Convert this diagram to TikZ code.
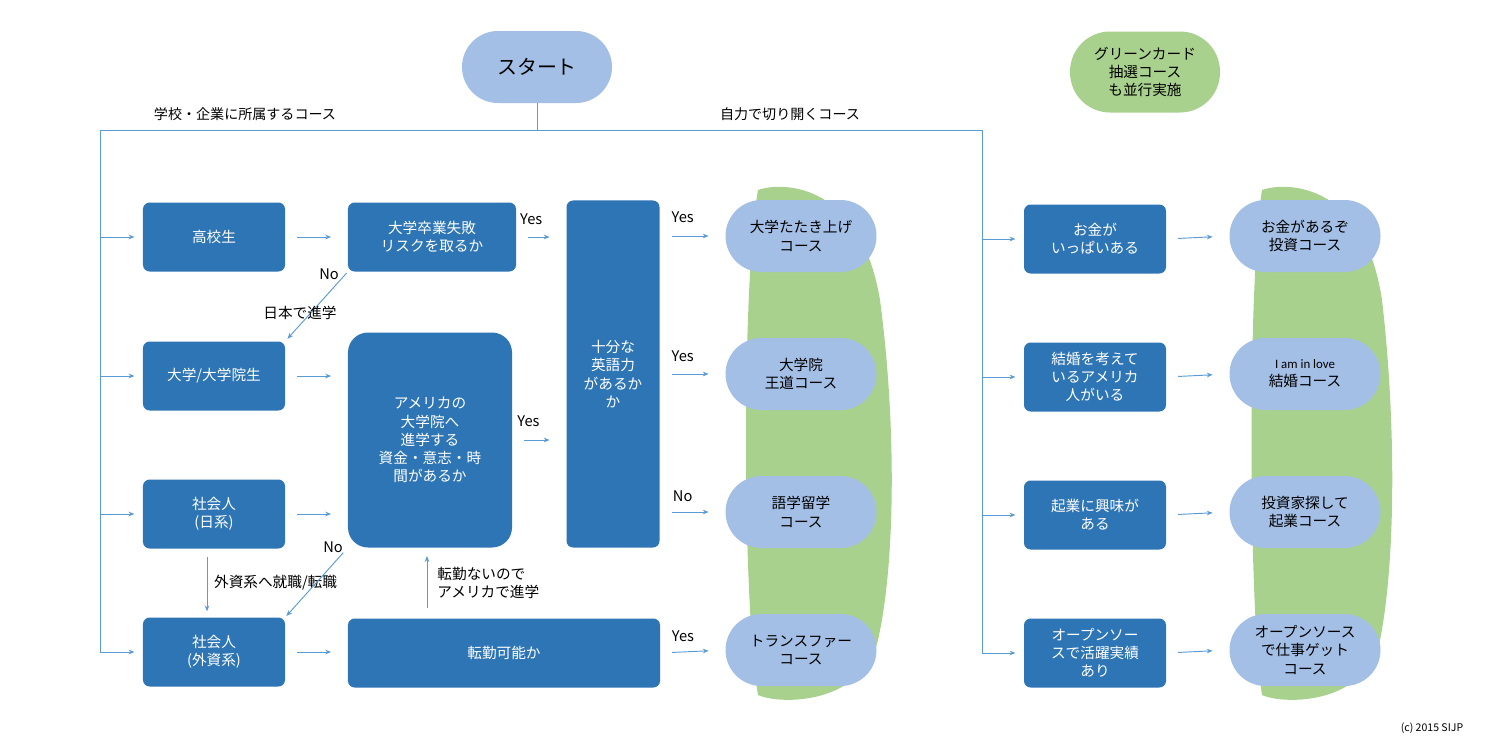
\documentclass[tikz,border=0pt]{standalone}
\usepackage{fontspec}
\setmainfont{Noto Sans CJK JP}
\usetikzlibrary{arrows.meta}
\definecolor{darkb}{HTML}{2E75B6}
\definecolor{lightb}{HTML}{A3BFE5}
\definecolor{grn}{HTML}{A9D18E}
\definecolor{wire}{HTML}{5B9BD5}
\tikzset{
  every node/.style={font=\fontsize{12.5}{15.5}\selectfont, align=center, inner sep=0pt},
  task/.style={fill=darkb, text=white, rounded corners=0.2cm, minimum width=4.26cm, minimum height=2.07cm},
  course/.style={fill=lightb, rounded corners=1.08cm, minimum width=4.53cm, minimum height=2.16cm},
  wire/.style={draw=wire, line width=0.8pt},
  arr/.style={wire, -{Stealth[length=5pt,width=4pt]}},
  gap/.style={arr, shorten <=0.36cm, shorten >=0.5cm},
  lbl/.style={font=\fontsize{12}{15}\selectfont}
}
\begin{document}
\begin{tikzpicture}[x=0.03cm, y=-0.03cm]
\useasboundingbox (0,0) rectangle (1500,748);
% green backgrounds
\fill [grn] (758,190) .. controls (780,182) and (860,180) .. (880,300)
  .. controls (896,420) and (896,560) .. (878,640)
  .. controls (862,705) and (780,705) .. (758,695)
  .. controls (742,600) and (742,280) .. cycle;
\fill [grn] (1262,190) .. controls (1284,182) and (1364,180) .. (1382,300)
  .. controls (1396,420) and (1396,560) .. (1380,640)
  .. controls (1366,705) and (1284,705) .. (1262,695)
  .. controls (1248,600) and (1248,280) .. cycle;
% top
\node [course, minimum width=4.5cm, font=\fontsize{17}{20}\selectfont] (start) at (537,67) {スタート};
\node [fill=grn, rounded corners=1.2cm, minimum width=4.5cm, minimum height=2.43cm] (gc) at (1145,72) {グリーンカード\\抽選コース\\も並行実施};
\coordinate (split) at (537,130);
\coordinate (spineL) at (100,130);
\coordinate (spineR) at (982,130);
\coordinate (downx) at (207,0);
\coordinate (upx) at (427,0);
\node [lbl] (lblL) at (245,114) {学校・企業に所属するコース};
\node [lbl] (lblR) at (790,114) {自力で切り開くコース};
% left column
\node [task] (hs) at (214,237) {高校生};
\node [task] (univ) at (214,376) {大学/大学院生};
\node [task] (jp) at (214,514) {社会人\\(日系)};
\node [task] (fg) at (214,652) {社会人\\(外資系)};
\node [task, minimum width=5.04cm] (risk) at (432,237) {大学卒業失敗\\リスクを取るか};
\node [task, rounded corners=0.6cm, minimum width=4.92cm, minimum height=6.45cm] (fund) at (430,440) {アメリカの\\大学院へ\\進学する\\資金・意志・時\\間があるか};
\node [task, minimum width=9.36cm] (move) at (504,653) {転勤可能か};
\node [task, minimum width=2.79cm, minimum height=10.41cm] (eng) at (613,374) {十分な\\英語力\\があるか\\か};
% courses
\node [course] (c1) at (801,236) {大学たたき上げ\\コース};
\node [course] (c2) at (801,374) {大学院\\王道コース};
\node [course] (c3) at (801,512) {語学留学\\コース};
\node [course] (c4) at (801,650) {トランスファー\\コース};
% right column
\node [task] (rich) at (1095,239) {お金が\\いっぱいある};
\node [task] (love) at (1095,377) {結婚を考えて\\いるアメリカ\\人がいる};
\node [task] (biz) at (1095,515) {起業に興味が\\ある};
\node [task] (oss) at (1095,653) {オープンソー\\スで活躍実績\\あり};
\node [course] (r1) at (1305,236) {お金があるぞ\\投資コース};
\node [course] (r2) at (1305,374) {{\fontspec{Carlito}\fontsize{11}{14}\selectfont I am in love}\\結婚コース};
\node [course] (r3) at (1305,512) {投資家探して\\起業コース};
\node [course] (r4) at (1305,650) {オープンソース\\で仕事ゲット\\コース};
\node [font=\fontsize{9}{11}\selectfont] (copy) at (1432,728) {(c) 2015 SIJP};
% trunk
\draw [wire] (start) -- (split);
\draw [wire] (spineL |- fg.west) -- (spineL) -- (spineR) -- (spineR |- oss.west);
\foreach \n in {hs,univ,jp,fg}
  \draw [arr, shorten >=0.25cm] (spineL |- \n.west) -- (\n.west);
\foreach \n in {rich,love,biz,oss}
  \draw [arr, shorten >=0.25cm] (spineR |- \n.west) -- (\n.west);
% flow
\draw [gap] (hs) -- (risk);
\draw [gap] (univ.east) -- (univ.east -| fund.west);
\draw [gap] (jp.east) -- (jp.east -| fund.west);
\draw [gap] (fg.east) -- (fg.east -| move.west);
\draw [gap] (risk.east) -- (risk.east -| eng.west) node [pos=0.3, above=0.35cm] {Yes};
\draw [gap] (fund.east) -- (fund.east -| eng.west) node [pos=0.3, above=0.4cm] {Yes};
\draw [gap] (c1.west -| eng.east) -- (c1.west) node [pos=0.35, above=0.4cm] {Yes};
\draw [gap] (c2.west -| eng.east) -- (c2.west) node [pos=0.35, above=0.35cm] {Yes};
\draw [gap] (c3.west -| eng.east) -- (c3.west) node [pos=0.35, above=0.3cm] {No};
\draw [gap] (move.east) -- (c4.west) node [pos=0.35, above=0.3cm] {Yes};
\foreach \a/\b in {rich/r1,love/r2,biz/r3,oss/r4}
  \draw [gap] (\a.east) -- (\b.west);
% side branches
\draw [arr, shorten <=0.05cm, shorten >=0.1cm] (risk.south west) -- (univ.north east);
\node (no1) at (329,274) {No};
\node (jpsch) at (300,313) {日本で進学};
\draw [arr, shorten <=0.25cm, shorten >=0.18cm] (jp.south -| downx) -- (fg.north -| downx)
  node [midway, right=0.2cm] {外資系へ就職/転職};
\draw [arr, shorten <=0.2cm, shorten >=0.05cm] (fund.south west) -- (fg.north east);
\node (no2) at (333,547) {No};
\draw [arr, shorten <=0.3cm, shorten >=0.25cm] (move.north -| upx) -- (fund.south -| upx)
  node [midway, right=0.3cm, align=left] {転勤ないので\\アメリカで進学};
\end{tikzpicture}
\end{document}
